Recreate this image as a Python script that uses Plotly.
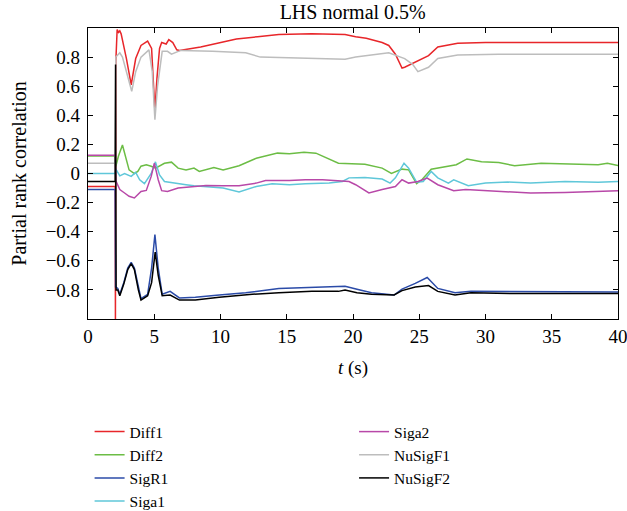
import plotly.graph_objects as go

# ---- data ----
diff1_t = [0, 2.05, 2.07, 2.1, 2.2, 2.3, 2.4, 2.5, 2.9, 3.26, 3.6, 4.0, 4.5, 4.8, 4.95, 5.05, 5.2, 5.4, 5.56, 5.9, 6.1, 6.4, 6.7, 6.9, 8.5, 10.1, 11.2, 12.8, 14.4, 16.9, 18.5, 19.4, 20.2, 21.0, 22.2, 22.7, 23.2, 23.7, 23.9, 24.8, 25.7, 26.4, 27.9, 30, 33, 36, 40]
diff1_v = [-0.09, -0.09, -1.0, 0.77, 0.99, 0.97, 0.98, 0.96, 0.79, 0.61, 0.79, 0.88, 0.91, 0.86, 0.6, 0.43, 0.65, 0.86, 0.90, 0.89, 0.92, 0.90, 0.85, 0.846, 0.87, 0.90, 0.925, 0.94, 0.955, 0.96, 0.96, 0.955, 0.94, 0.93, 0.90, 0.88, 0.82, 0.725, 0.73, 0.77, 0.81, 0.87, 0.895, 0.90, 0.90, 0.90, 0.90]

diff2_t = [0, 2.05, 2.1, 2.3, 2.6, 2.85, 3.1, 3.5, 3.76, 4.0, 4.4, 4.77, 5.1, 5.77, 6.3, 6.8, 7.4, 8.0, 8.4, 9.5, 10.2, 11.4, 12.7, 14.3, 15.2, 16.3, 17.2, 18.9, 20.9, 22.2, 22.9, 23.7, 24.2, 24.8, 25.2, 25.9, 27.2, 27.8, 28.6, 29.7, 31, 32.2, 34.2, 36, 38.5, 39.2, 40]
diff2_v = [0.12, 0.12, 0.05, 0.12, 0.196, 0.10, 0.025, 0.0, 0.014, 0.05, 0.06, 0.05, 0.037, 0.07, 0.078, 0.037, 0.025, 0.037, 0.014, 0.041, 0.025, 0.053, 0.105, 0.14, 0.135, 0.146, 0.14, 0.071, 0.064, 0.037, 0.0, 0.03, 0.025, -0.07, -0.043, 0.03, 0.048, 0.06, 0.1, 0.08, 0.075, 0.053, 0.071, 0.066, 0.06, 0.07, 0.055]

sigr1_t = [0, 2.05, 2.08, 2.25, 2.4, 2.7, 3.0, 3.26, 3.5, 3.8, 4.0, 4.5, 4.8, 5.05, 5.3, 5.6, 6.2, 6.9, 8.1, 9.9, 11.9, 14.4, 16.9, 19.4, 20.3, 21.4, 23.1, 23.7, 24.7, 25.6, 26.4, 27.7, 28.9, 32, 36, 40]
sigr1_v = [-0.11, -0.11, -0.78, -0.79, -0.83, -0.75, -0.65, -0.61, -0.65, -0.79, -0.86, -0.83, -0.65, -0.42, -0.65, -0.83, -0.81, -0.855, -0.85, -0.835, -0.82, -0.79, -0.78, -0.775, -0.795, -0.82, -0.835, -0.795, -0.755, -0.715, -0.79, -0.82, -0.81, -0.81, -0.815, -0.815]

siga1_t = [0, 2.05, 2.1, 2.4, 2.76, 3.26, 3.6, 3.9, 4.26, 4.77, 5.09, 5.4, 5.77, 6.8, 7.4, 8.0, 8.9, 10.2, 11.4, 12.7, 13.9, 15.2, 16.4, 18.2, 19.2, 19.7, 20.9, 22.2, 22.8, 23.2, 23.85, 24.2, 24.8, 25.3, 25.9, 26.4, 27.2, 27.6, 28.7, 30, 31.7, 33.4, 36, 38.5, 40]
siga1_v = [0.0, 0.0, 0.03, -0.016, 0.0, -0.02, 0.007, -0.043, -0.07, 0.0, 0.08, -0.01, -0.055, -0.066, -0.077, -0.084, -0.089, -0.1, -0.127, -0.089, -0.07, -0.077, -0.07, -0.066, -0.055, -0.03, -0.027, -0.038, -0.066, -0.03, 0.071, 0.037, -0.06, -0.055, 0.014, -0.03, -0.066, -0.043, -0.084, -0.066, -0.059, -0.066, -0.055, -0.06, -0.055]

siga2_t = [0, 2.05, 2.1, 2.4, 2.76, 3.1, 3.5, 3.76, 4.0, 4.4, 4.77, 5.01, 5.3, 5.56, 6.0, 6.8, 8.0, 8.9, 10.2, 11.4, 12.7, 13.4, 15.2, 16.4, 17.7, 18.9, 19.7, 20.2, 21.2, 22.2, 23.2, 23.7, 24.2, 24.9, 25.6, 26.4, 27.6, 28.5, 31, 33.4, 36, 38.5, 40]
siga2_v = [0.125, 0.125, -0.05, -0.11, -0.134, -0.157, -0.168, -0.146, -0.123, -0.116, -0.02, 0.071, -0.043, -0.118, -0.123, -0.1, -0.089, -0.082, -0.084, -0.084, -0.066, -0.048, -0.048, -0.043, -0.043, -0.048, -0.055, -0.077, -0.134, -0.11, -0.089, -0.043, -0.066, -0.055, -0.032, -0.077, -0.118, -0.11, -0.123, -0.134, -0.13, -0.123, -0.118]

nusigf1_t = [0, 2.05, 2.1, 2.2, 2.4, 2.6, 2.9, 3.3, 3.6, 4.0, 4.6, 4.85, 5.05, 5.25, 5.6, 6.0, 6.3, 7.0, 9.4, 11.9, 13.0, 16.9, 19.4, 20.2, 21.4, 22.7, 23.9, 24.5, 24.9, 25.7, 26.4, 27.9, 31, 35, 40]
nusigf1_v = [0.07, 0.07, 0.8, 0.81, 0.83, 0.80, 0.70, 0.565, 0.70, 0.80, 0.85, 0.70, 0.37, 0.60, 0.84, 0.84, 0.82, 0.846, 0.84, 0.83, 0.80, 0.79, 0.785, 0.80, 0.815, 0.83, 0.79, 0.75, 0.70, 0.73, 0.79, 0.815, 0.82, 0.82, 0.82]

nusigf2_t = [0, 2.05, 2.08, 2.12, 2.25, 2.4, 2.7, 3.0, 3.26, 3.5, 3.8, 4.0, 4.5, 4.8, 5.07, 5.3, 5.6, 6.2, 6.9, 8.1, 9.9, 12.4, 14.4, 16.9, 18.9, 19.4, 20.3, 21.4, 23.1, 23.7, 24.7, 25.7, 26.4, 27.7, 28.9, 32, 36, 40]
nusigf2_v = [-0.055, -0.055, 0.75, -0.8, -0.80, -0.84, -0.76, -0.66, -0.62, -0.66, -0.8, -0.87, -0.84, -0.75, -0.54, -0.70, -0.84, -0.835, -0.87, -0.87, -0.85, -0.83, -0.82, -0.81, -0.81, -0.80, -0.82, -0.83, -0.835, -0.805, -0.78, -0.77, -0.81, -0.835, -0.82, -0.825, -0.825, -0.825]

x_ticks = [0, 5, 10, 15, 20, 25, 30, 35, 40]
y_ticks = [-0.8, -0.6, -0.4, -0.2, 0, 0.2, 0.4, 0.6, 0.8]
y_ticklabels = ["\u22120.8", "\u22120.6", "\u22120.4", "\u22120.2", "0", "0.2", "0.4", "0.6", "0.8"]

series = [
    ("Diff1", diff1_t, diff1_v, "#e8262a", "legend"),
    ("Diff2", diff2_t, diff2_v, "#6cbd45", "legend"),
    ("SigR1", sigr1_t, sigr1_v, "#2b4ba8", "legend"),
    ("Siga1", siga1_t, siga1_v, "#5fc7d9", "legend"),
    ("Siga2", siga2_t, siga2_v, "#b848a8", "legend2"),
    ("NuSigF1", nusigf1_t, nusigf1_v, "#bdbdbd", "legend2"),
    ("NuSigF2", nusigf2_t, nusigf2_v, "#000000", "legend2"),
]

FONT = "Liberation Serif"
fig = go.Figure()
for name, t, v, c, lg in series:
    fig.add_trace(go.Scatter(x=t, y=v, mode="lines", name=name,
                             line=dict(color=c, width=1.5), legend=lg))

axis_common = dict(showline=True, linecolor="black", linewidth=1.2, mirror="ticks",
                   ticks="inside", ticklen=5, tickcolor="black", showgrid=False,
                   zeroline=False, automargin=False, ticklabeloverflow="allow",
                   tickfont=dict(family=FONT, size=19, color="black"))

fig.update_layout(
    width=627, height=511,
    margin=dict(l=88, r=9, t=28, b=192, autoexpand=False),
    paper_bgcolor="white", plot_bgcolor="white",
    font=dict(family=FONT, size=18, color="black"),
    title=dict(text="LHS normal 0.5%", x=0.5625, xanchor="center", y=0.976, yanchor="middle",
               font=dict(family=FONT, size=20, color="black")),
    xaxis=dict(range=[0, 40], tickvals=x_ticks, ticklabelstandoff=0,
               title=dict(text="<i>t</i> (s)", font=dict(family=FONT, size=19), standoff=14),
               **axis_common),
    yaxis=dict(range=[-1, 1], tickvals=y_ticks, ticktext=y_ticklabels, ticklabelstandoff=3,
               title=dict(text="Partial rank correlation", font=dict(family=FONT, size=20), standoff=13),
               **axis_common),
    legend=dict(x=0.003, y=-0.33, xanchor="left", yanchor="top", orientation="v",
                font=dict(family=FONT, size=15.5), bgcolor="rgba(0,0,0,0)", tracegroupgap=0),
    legend2=dict(x=0.502, y=-0.33, xanchor="left", yanchor="top", orientation="v",
                 font=dict(family=FONT, size=15.5), bgcolor="rgba(0,0,0,0)", tracegroupgap=0),
)

fig.write_html("out.html", config={"displayModeBar": False},
               post_script="document.body.style.margin='0';")
